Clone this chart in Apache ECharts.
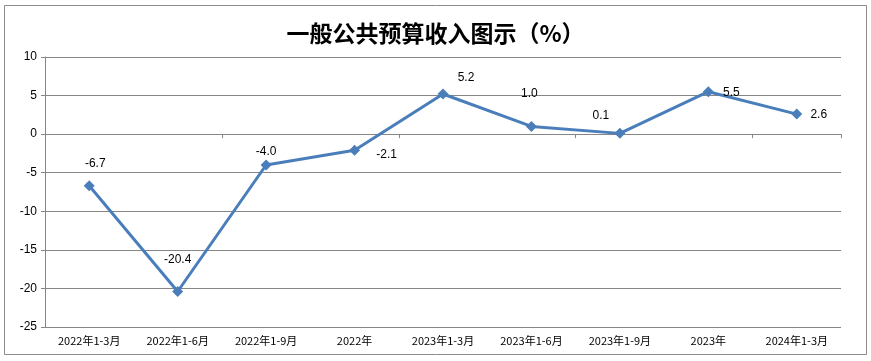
<!DOCTYPE html>
<html><head><meta charset="utf-8">
<script src="https://cdn.jsdelivr.net/npm/echarts@6/dist/echarts.min.js"></script>
<style>html,body{margin:0;padding:0;background:#fff}#c{width:871px;height:361px}</style>
</head><body><div id="c"></div>
<script>
const titleText = '一般公共预算收入图示（%）';
const categories = ['2022年1-3月','2022年1-6月','2022年1-9月','2022年','2023年1-3月','2023年1-6月','2023年1-9月','2023年','2024年1-3月'];
const values = [-6.7, -20.4, -4.0, -2.1, 5.2, 1.0, 0.1, 5.5, 2.6];
const yTicks = {min: -25, max: 10, interval: 5};
// label placement (style only)
const labelOffsets = [[6,-22],[0,-32],[0,-13],[32,4],[23,-16],[-2,-33],[-19,-18],[23,1],[22,1]];

const chart = echarts.init(document.getElementById('c'));
chart.setOption({
  animation: false,
  backgroundColor: '#fff',
  title: {text: titleText, left: 'center', top: 17,
    textStyle: {fontFamily: 'Noto Sans CJK SC', fontSize: 23, fontWeight: 'bold', color: '#000'}},
  graphic: [{type: 'rect', shape: {x: 4.5, y: 5.5, width: 862, height: 349},
    style: {fill: 'none', stroke: '#8c8c8c', lineWidth: 1}, z: -1}],
  grid: {left: 45, right: 30, top: 57, bottom: 34},
  xAxis: [
    {type: 'category', data: categories, position: 'bottom',
     axisLine: {show: false, onZero: false}, axisTick: {show: false}, splitLine: {show: false},
     axisLabel: {fontFamily: 'Noto Sans CJK SC', fontSize: 11, color: '#000', margin: 8, interval: 0}},
    {type: 'category', data: categories, position: 'bottom',
     axisLine: {show: true, onZero: true, lineStyle: {color: '#868686', width: 1}},
     axisTick: {show: true, length: 4, inside: false, lineStyle: {color: '#868686'}},
     axisLabel: {show: false}, splitLine: {show: false}}
  ],
  yAxis: {type: 'value', min: yTicks.min, max: yTicks.max, interval: yTicks.interval,
    axisLine: {show: true, lineStyle: {color: '#868686'}},
    axisTick: {show: true, length: 4, lineStyle: {color: '#868686'}},
    axisLabel: {fontFamily: 'Liberation Sans', fontSize: 12, color: '#000', margin: 8},
    splitLine: {lineStyle: {color: '#868686', width: 1}}},
  series: [{
    type: 'line', xAxisIndex: 0,
    data: values.map((v, i) => ({value: v, label: {offset: labelOffsets[i]}})),
    symbol: 'diamond', symbolSize: 11,
    lineStyle: {color: '#4A7EBB', width: 3},
    itemStyle: {color: '#4A7EBB'},
    label: {show: true, position: 'inside', formatter: p => p.value.toFixed(1),
      fontFamily: 'Liberation Sans', fontSize: 12, color: '#000'}
  }]
});
</script></body></html>
